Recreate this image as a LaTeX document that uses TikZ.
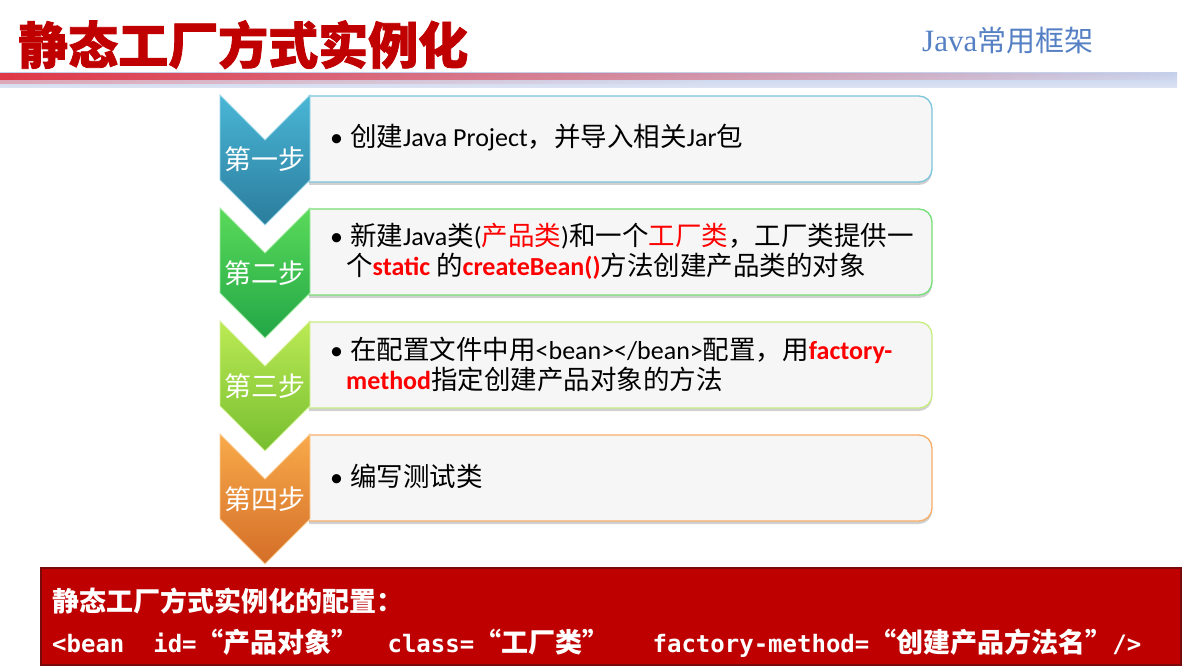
\documentclass[tikz,border=0pt]{standalone}
\usepackage{fontspec}
\setmainfont{Noto Sans CJK SC}
\newfontfamily\latf{Carlito}
\newfontfamily\monof{DejaVu Sans Mono}
\newfontfamily\serf{Liberation Serif}
\newfontfamily\cjkq{Noto Sans CJK SC}[RawFeature=+fwid]
\newfontfamily\titlef{Noto Sans CJK SC}[BoldFeatures={FakeBold=1.6}]
\usetikzlibrary{shadows,fadings}
\definecolor{titlered}{HTML}{C00000}
\definecolor{hl}{HTML}{FF0000}
\definecolor{boxfill}{HTML}{F6F6F6}
\definecolor{javablue}{HTML}{5580C4}
\definecolor{barred}{HTML}{E03848}
\definecolor{barblue}{HTML}{C6D1EB}
\definecolor{barlight}{HTML}{DCE3F3}
\definecolor{aTop}{HTML}{4AB6D6}\definecolor{aBot}{HTML}{2A7C9C}\definecolor{aLine}{HTML}{7CC6DE}
\definecolor{bTop}{HTML}{5ADA5A}\definecolor{bBot}{HTML}{22A646}\definecolor{bLine}{HTML}{76DE76}
\definecolor{cTop}{HTML}{BCEA54}\definecolor{cBot}{HTML}{76BE30}\definecolor{cLine}{HTML}{C6EE80}
\definecolor{dTop}{HTML}{F8AA4A}\definecolor{dBot}{HTML}{D46E28}\definecolor{dLine}{HTML}{F8AE68}
\definecolor{cfgred}{HTML}{BE0000}
\definecolor{cfgedge}{HTML}{7A0A0A}
\tikzset{
  stepbox/.style={fill=boxfill, line width=1.3pt,
     drop shadow={shadow xshift=0pt, shadow yshift=-3pt, opacity=0.3, fill=black!60}},
  steplabel/.style={anchor=base, text=white, font=\fontsize{27}{30}\selectfont, inner sep=0pt},
  bodytext/.style={anchor=base west, inner sep=0pt, font=\fontsize{26.5}{30}\selectfont},
}
\newcommand\hlb[1]{{\latf\fontsize{26}{30}\selectfont\bfseries\color{hl}#1}}
\newcommand\latn[1]{{\latf\fontsize{26}{30}\selectfont #1}}
\newcommand\mon[1]{{\monof\fontsize{24}{28}\selectfont\bfseries #1}}
\begin{document}
\begin{tikzpicture}[x=1pt,y=-1pt]
\useasboundingbox (0,0) rectangle (1187,666);
\fill[white] (0,0) rectangle (1187,666);
% header bar
\fill[top color=barblue, bottom color=barlight] (0,73) rectangle (1177,88);
\fill[barred, path fading=east] (0,73) rectangle (1177,80);
\fill[barred!70!white, path fading=east, opacity=0.5] (0,80) rectangle (700,84);
% title
\node[anchor=base west, inner sep=0pt, text=titlered, font=\titlef\fontsize{50}{56}\selectfont\bfseries] (title) at (18,64) {静态工厂方式实例化};
\node[anchor=base west, inner sep=0pt, text=javablue, font=\fontsize{29}{32}\selectfont] (brand) at (922,52) {{\serf\fontsize{31}{32}\selectfont Java}常用框架};
% boxes
\foreach \T/\cl in {95/aLine,208/bLine,321/cLine,434/dLine}
  \draw[stepbox, draw=\cl] (309,\T+1) -- (919,\T+1) arc[start angle=-90, end angle=0, radius=13]
     -- (932,\T+74) arc[start angle=0, end angle=90, radius=13] -- (309,\T+87) -- cycle;
% chevrons
\foreach \T/\ct/\cb/\lab/\i in {95/aTop/aBot/第一步/1,208/bTop/bBot/第二步/2,321/cTop/cBot/第三步/3,434/dTop/dBot/第四步/4}{
  \path[top color=\ct, bottom color=\cb, draw=\ct!55!white, line width=0.8pt]
    (220,\T) -- (265,\T+45) -- (310,\T) -- (310,\T+85) -- (265,\T+130) -- (220,\T+85) -- cycle;
  \node[steplabel] (lab\i) at (265,\T+75) {\lab};
}
% body texts
\node[bodytext] (t1) at (330,147) {\latn{•}\hspace{7pt}创建\latn{Java Project}，并导入相关\latn{Jar}包};
\node[bodytext] (t2a) at (330,245) {\latn{•}\hspace{7pt}新建\latn{Java}类\latn{(}\textcolor{hl}{产品类}\latn{)}和一个\textcolor{hl}{工厂类}，工厂类提供一};
\node[bodytext] (t2b) at (346,275) {个\hlb{static} 的\hlb{createBean()}方法创建产品类的对象};
\node[bodytext] (t3a) at (330,359) {\latn{•}\hspace{7pt}在配置文件中用\latn{<bean></bean>}配置，用\hlb{factory-}};
\node[bodytext] (t3b) at (346,389) {\hlb{method}指定创建产品对象的方法};
\node[bodytext] (t4) at (330,486) {\latn{•}\hspace{7pt}编写测试类};
% config box
\node[draw=cfgedge, fill=cfgred, line width=1.5pt, minimum width=1140pt, minimum height=97pt, anchor=north west, inner sep=0pt] (cfg) at (40,567) {};
\node[anchor=base west, inner sep=0pt, text=white, font=\fontsize{27}{32}\selectfont\bfseries] (cfgtitle) at (52,611) {静态工厂方式实例化的配置：};
\node[anchor=base west, inner sep=0pt, text=white, font=\fontsize{27}{32}\selectfont\bfseries] (cfgline) at (52,652)
  {\mon{<bean\ \ id=}{\cjkq “}产品对象{\cjkq ”}\mon{\ \ class=}{\cjkq “}工厂类{\cjkq ”}\mon{\ \ \ factory-method=}{\cjkq “}创建产品方法名{\cjkq ”}\mon{/>}};
\end{tikzpicture}
\end{document}
